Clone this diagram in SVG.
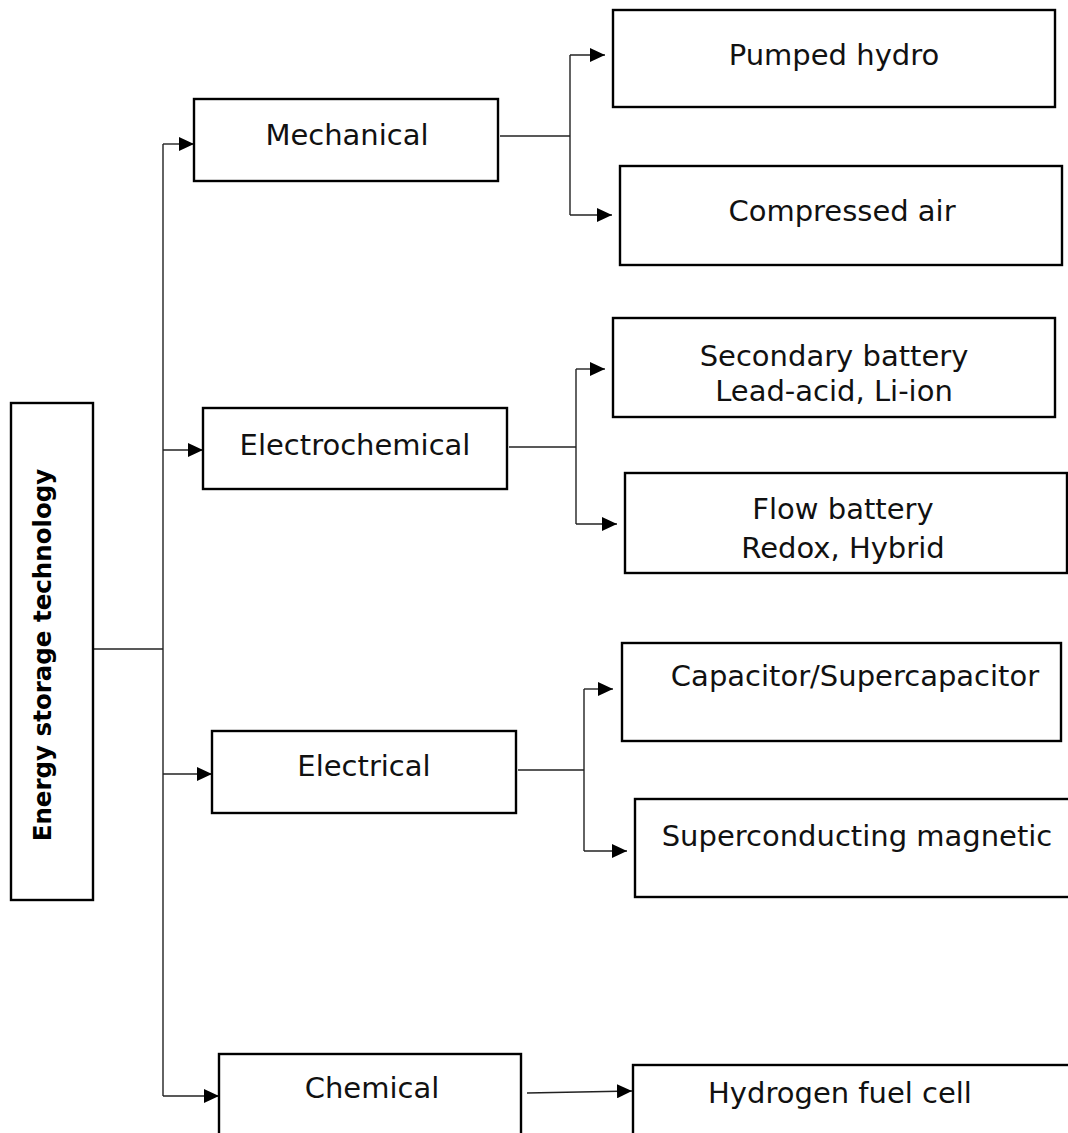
<svg xmlns="http://www.w3.org/2000/svg" width="1068" height="1133" viewBox="0 0 1068 1133">
<style>
.box{fill:#fff;stroke:#000;stroke-width:2.4}
.t{font-family:"DejaVu Sans",sans-serif;font-size:29px;fill:#111;text-anchor:middle}
.tb{font-family:"DejaVu Sans",sans-serif;font-weight:bold;font-size:24.5px;fill:#000;text-anchor:middle}
.c{fill:none;stroke:#222;stroke-width:1.4}
</style>
<defs>
<marker id="ah" viewBox="0 0 15 14" refX="15" refY="7" markerWidth="15" markerHeight="14" markerUnits="userSpaceOnUse" orient="auto">
<path d="M0,0 L15,7 L0,14 Z" fill="#000"/>
</marker>
</defs>
<rect width="1068" height="1133" fill="#fff"/>
<g id="connectors">
<path class="c" d="M93,649 H163"/>
<path class="c" d="M163,144 V1096"/>
<path class="c" d="M163,144 H194" marker-end="url(#ah)"/>
<path class="c" d="M163,450 H203" marker-end="url(#ah)"/>
<path class="c" d="M163,774 H212" marker-end="url(#ah)"/>
<path class="c" d="M163,1096 H219" marker-end="url(#ah)"/>
<path class="c" d="M500,136 H570"/>
<path class="c" d="M570,55 V215"/>
<path class="c" d="M570,55 H605" marker-end="url(#ah)"/>
<path class="c" d="M570,215 H612" marker-end="url(#ah)"/>
<path class="c" d="M509,447 H576"/>
<path class="c" d="M576,369 V524"/>
<path class="c" d="M576,369 H605" marker-end="url(#ah)"/>
<path class="c" d="M576,524 H617" marker-end="url(#ah)"/>
<path class="c" d="M518,770 H584"/>
<path class="c" d="M584,689 V851"/>
<path class="c" d="M584,689 H613" marker-end="url(#ah)"/>
<path class="c" d="M584,851 H627" marker-end="url(#ah)"/>
<path class="c" d="M527,1093 L632,1091" marker-end="url(#ah)"/>
</g>
<g id="root">
<rect class="box" x="11" y="403" width="82" height="497"/>
<text class="tb" transform="translate(51,655) rotate(-90)">Energy storage technology</text>
</g>
<g id="mechanical">
<rect class="box" x="194" y="99" width="304" height="82"/>
<text class="t" x="347" y="145">Mechanical</text>
</g>
<g id="electrochemical">
<rect class="box" x="203" y="408" width="304" height="81"/>
<text class="t" x="355" y="455">Electrochemical</text>
</g>
<g id="electrical">
<rect class="box" x="212" y="731" width="304" height="82"/>
<text class="t" x="364" y="776">Electrical</text>
</g>
<g id="chemical">
<rect class="box" x="219" y="1054" width="302" height="90"/>
<text class="t" x="372" y="1098">Chemical</text>
</g>
<g id="pumped-hydro">
<rect class="box" x="613" y="10" width="442" height="97"/>
<text class="t" x="834" y="65">Pumped hydro</text>
</g>
<g id="compressed-air">
<rect class="box" x="620" y="166" width="442" height="99"/>
<text class="t" x="842" y="221">Compressed air</text>
</g>
<g id="secondary-battery">
<rect class="box" x="613" y="318" width="442" height="99"/>
<text class="t" x="834" y="366">Secondary battery</text>
<text class="t" x="834" y="401">Lead-acid, Li-ion</text>
</g>
<g id="flow-battery">
<rect class="box" x="625" y="473" width="442" height="100"/>
<text class="t" x="843" y="519">Flow battery</text>
<text class="t" x="843" y="558">Redox, Hybrid</text>
</g>
<g id="capacitor">
<rect class="box" x="622" y="643" width="439" height="98"/>
<text class="t" x="855" y="686">Capacitor/Supercapacitor</text>
</g>
<g id="superconducting">
<rect class="box" x="635" y="799" width="440" height="98"/>
<text class="t" x="857" y="846">Superconducting magnetic</text>
</g>
<g id="hydrogen">
<rect class="box" x="633" y="1065" width="440" height="90"/>
<text class="t" x="840" y="1103">Hydrogen fuel cell</text>
</g>
</svg>
